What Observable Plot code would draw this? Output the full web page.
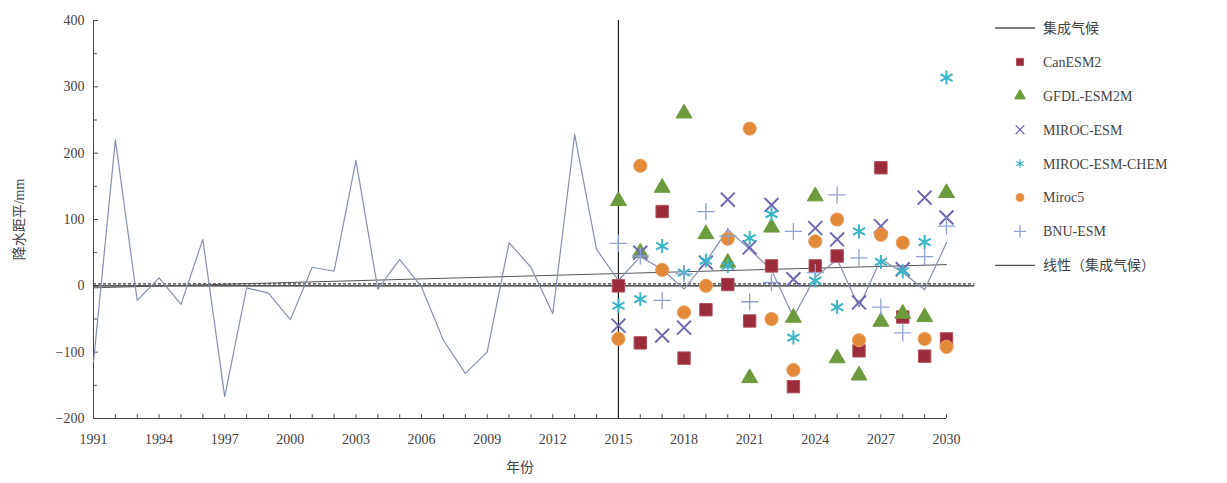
<!DOCTYPE html>
<html><head><meta charset="utf-8">
<script src="https://cdn.jsdelivr.net/npm/d3@7"></script>
<script src="https://cdn.jsdelivr.net/npm/@observablehq/plot@0.6"></script>
<style>
body{margin:0;background:#fff;}
#wrap{position:relative;width:1227px;height:483px;overflow:hidden;}
#legend{position:absolute;left:985px;top:0;}
</style></head><body><div id="wrap"></div>
<script>
// ---- data ----
const years = [1991,1992,1993,1994,1995,1996,1997,1998,1999,2000,2001,2002,2003,2004,2005,2006,2007,2008,2009,2010,
               2011,2012,2013,2014,2015,2016,2017,2018,2019,2020,2021,2022,2023,2024,2025,2026,2027,2028,2029,2030];
const ensembleValues = [-115,220,-22,12,-28,70,-167,-3,-11,-51,28,22,189,-5,40,-2,-82,-132,-100,65,
                        28,-42,228,55,8,44,25,-5,36,85,55,24,-47,13,40,-32,40,20,-6,65];
const futureYears = [2015,2016,2017,2018,2019,2020,2021,2022,2023,2024,2025,2026,2027,2028,2029,2030];
const canESM2     = [0,-86,112,-109,-36,2,-53,30,-152,30,45,-98,178,-47,-106,-80];
const gfdlESM2M   = [128,50,148,260,78,35,-139,88,-48,135,-109,-135,-54,-42,-47,140];
const mirocESM    = [-60,50,-75,-63,35,130,58,122,10,87,70,-25,90,25,133,103];
const mirocChem   = [-30,-20,60,20,38,30,72,108,-78,8,-32,82,36,22,66,314];
const miroc5      = [-80,181,24,-40,0,71,237,-50,-127,67,100,-82,77,65,-80,-92];
const bnuESM      = [64,45,-22,18,112,75,-24,5,82,20,137,42,-32,-71,44,90];
const trendYears  = [1991,2030];
const trendValues = [-3,32];
const refLevels   = [0,3];          // solid and dashed reference lines
const refSpan     = [1991,2031.3];
const xLabelTicks = [1991,1994,1997,2000,2003,2006,2009,2012,2015,2018,2021,2024,2027,2030];
const yLabelTicks = [-200,-100,0,100,200,300,400];
const yMinorTicks = [-150,-50,50,150,250,350];
const seriesNames = ["CanESM2","GFDL-ESM2M","MIROC-ESM","MIROC-ESM-CHEM","Miroc5","BNU-ESM"];
const lineLegend  = ["集成气候","线性（集成气候）"];

// ---- styles ----
const FONT = '"Liberation Serif","Noto Sans CJK SC",serif';
const series = [
  {name: seriesNames[0], values: canESM2,   symbol: "square",   fill: "#9b2c3c", stroke: "#b0505c", r: 7.0},
  {name: seriesNames[1], values: gfdlESM2M, symbol: "triangle", fill: "#6d9a3c", stroke: "#6d9a3c", r: 5.9},
  {name: seriesNames[2], values: mirocESM,  symbol: "times",    fill: "none",    stroke: "#6c68b4", r: 6.4, sw: 2},
  {name: seriesNames[3], values: mirocChem, symbol: "asterisk", fill: "none",    stroke: "#3ab4c8", r: 6.6, sw: 2},
  {name: seriesNames[4], values: miroc5,    symbol: "circle",   fill: "#e38a3a", stroke: "#e9a060", r: 6.6},
  {name: seriesNames[5], values: bnuESM,    symbol: "plus",     fill: "none",    stroke: "#8ea2d2", r: 5.6, sw: 1.3}
];

const ensemble = years.map((y, i) => ({year: y, value: ensembleValues[i]}));
const trend = trendYears.map((y, i) => ({year: y, value: trendValues[i]}));

const dotMarks = series.map(s => {
  const data = futureYears.map((y, i) => ({year: y, value: s.values[i]}));
  return Plot.dot(data, {
    x: "year", y: "value", symbol: () => s.symbol, r: s.r,
    fill: s.fill, stroke: s.stroke, strokeWidth: s.sw ?? 1
  });
});

const chart = Plot.plot({
  width: 1227, height: 483,
  marginLeft: 93, marginRight: 281, marginTop: 20, marginBottom: 65,
  style: {fontFamily: FONT, fontSize: "14px", color: "#444", background: "#fff", overflow: "visible"},
  x: {domain: [1991, 2030]},
  y: {domain: [-200, 400]},
  symbol: {type: "identity"},
  marks: [
    Plot.axisY({ticks: yMinorTicks, tickSize: -4, tickFormat: () => "", label: null, stroke: "#555"}),
    Plot.axisY({ticks: yLabelTicks, tickSize: -5, tickPadding: 14, tickFormat: d => d < 0 ? "−" + Math.abs(d) : String(d),
                label: "降水距平/mm", labelAnchor: "center", labelOffset: 79, labelArrow: false, stroke: "#555"}),
    Plot.axisX({ticks: years, tickSize: -4, tickFormat: () => "", label: null, stroke: "#555"}),
    Plot.axisX({ticks: xLabelTicks, tickSize: 0, tickPadding: 16, tickFormat: d => String(d),
                label: "年份", labelAnchor: "center", labelOffset: 53, labelArrow: false}),
    Plot.ruleX([1991], {stroke: "#444"}),
    Plot.ruleY([-200], {x1: 1991, x2: 2030, stroke: "#444"}),
    Plot.ruleX([2015], {stroke: "#222", strokeWidth: 1.2}),
    Plot.ruleY([refLevels[0]], {x1: refSpan[0], x2: refSpan[1], stroke: "#222", strokeWidth: 1.3}),
    Plot.ruleY([refLevels[1]], {x1: refSpan[0], x2: refSpan[1], stroke: "#333", strokeWidth: 1.3, strokeDasharray: "3,2"}),
    Plot.line(trend, {x: "year", y: "value", stroke: "#555", strokeWidth: 1}),
    Plot.line(ensemble, {x: "year", y: "value", stroke: "#8590b2", strokeWidth: 1.2}),
    ...dotMarks
  ]
});
document.getElementById("wrap").appendChild(chart);

// ---- legend ----
const lg = d3.select("#wrap").append("svg").attr("id", "legend")
  .attr("width", 242).attr("height", 290)
  .style("font-family", FONT).style("font-size", "14px");
const rowY = i => 28 + i * 33.9;
const items = [{type: "line", name: lineLegend[0], stroke: "#555"},
  ...series.map(s => ({type: "sym", ...s})),
  {type: "line", name: lineLegend[1], stroke: "#555"}];
items.forEach((it, i) => {
  const y = rowY(i);
  if (it.type === "line") {
    lg.append("line").attr("x1", 10).attr("x2", 50).attr("y1", y).attr("y2", y)
      .attr("stroke", it.stroke).attr("stroke-width", 1.3);
  } else {
    const map = {square: d3.symbolSquare, triangle: d3.symbolTriangle, times: d3.symbolTimes,
                 asterisk: d3.symbolAsterisk, circle: d3.symbolCircle, plus: d3.symbolPlus};
    const size = Math.PI * 4 * 4;
    lg.append("path").attr("transform", `translate(35,${y})`)
      .attr("d", d3.symbol(map[it.symbol], size)())
      .attr("fill", it.fill).attr("stroke", it.stroke).attr("stroke-width", it.sw ? 1.3 : 1);
  }
  lg.append("text").attr("x", 58).attr("y", y).attr("dy", "0.35em").attr("fill", "#444").text(it.name);
});
</script>
</body></html>
